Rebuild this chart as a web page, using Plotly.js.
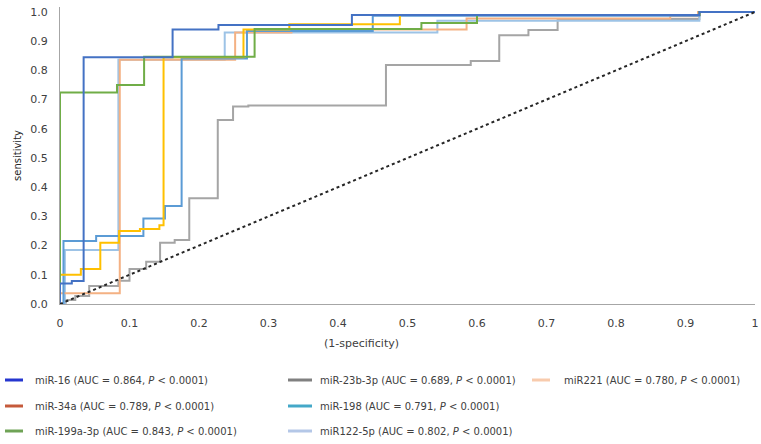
<!DOCTYPE html>
<html>
<head>
<meta charset="utf-8">
<script src="https://cdn.plot.ly/plotly-3.0.1.min.js"></script>
<style>html,body{margin:0;padding:0;background:#fff;}#chart{width:761px;height:444px;}</style>
</head>
<body>
<div id="chart"></div>
<script>
// ---- data ----
const seriesNames = ['miR-16', 'miR-34a', 'miR-199a-3p', 'miR-23b-3p', 'miR-198', 'miR122-5p', 'miR221'];
const aucValues = ['0.864', '0.789', '0.843', '0.689', '0.791', '0.802', '0.780'];
const pText = '0.0001';

const fpr16 = [0, 0, 0.017, 0.017, 0.034, 0.034, 0.162, 0.162, 0.228, 0.228, 0.42, 0.42, 0.92, 0.92, 1];
const tpr16 = [0, 0.07, 0.07, 0.079, 0.079, 0.845, 0.845, 0.94, 0.94, 0.955, 0.955, 0.99, 0.99, 1, 1];

const fpr34a = [0, 0, 0.03, 0.03, 0.058, 0.058, 0.085, 0.085, 0.115, 0.115, 0.143, 0.143, 0.149, 0.149, 0.264, 0.264, 0.33, 0.33, 0.489, 0.489, 0.92, 0.92, 1];
const tpr34a = [0, 0.1, 0.1, 0.12, 0.12, 0.21, 0.21, 0.25, 0.25, 0.257, 0.257, 0.27, 0.27, 0.845, 0.845, 0.94, 0.94, 0.958, 0.958, 0.99, 0.99, 1, 1];

const fpr199a = [0, 0, 0.082, 0.082, 0.121, 0.121, 0.28, 0.28, 0.52, 0.52, 0.6, 0.6, 0.92, 0.92, 1];
const tpr199a = [0, 0.724, 0.724, 0.75, 0.75, 0.847, 0.847, 0.942, 0.942, 0.962, 0.962, 0.99, 0.99, 1, 1];

const fpr23b = [0, 0.008, 0.008, 0.022, 0.022, 0.042, 0.042, 0.084, 0.084, 0.1, 0.1, 0.124, 0.124, 0.144, 0.144, 0.165, 0.165, 0.186, 0.186, 0.227, 0.227, 0.249, 0.249, 0.271, 0.271, 0.469, 0.469, 0.591, 0.591, 0.632, 0.632, 0.674, 0.674, 0.716, 0.716, 0.92, 0.92, 1];
const tpr23b = [0, 0, 0.014, 0.014, 0.027, 0.027, 0.062, 0.062, 0.08, 0.08, 0.12, 0.12, 0.145, 0.145, 0.21, 0.21, 0.219, 0.219, 0.362, 0.362, 0.63, 0.63, 0.676, 0.676, 0.68, 0.68, 0.818, 0.818, 0.832, 0.832, 0.92, 0.92, 0.938, 0.938, 0.976, 0.976, 1, 1];

const fpr198 = [0, 0.005, 0.005, 0.052, 0.052, 0.12, 0.12, 0.151, 0.151, 0.175, 0.175, 0.269, 0.269, 0.45, 0.45, 0.92, 0.92, 1];
const tpr198 = [0, 0, 0.216, 0.216, 0.233, 0.233, 0.293, 0.293, 0.336, 0.336, 0.841, 0.841, 0.935, 0.935, 0.987, 0.987, 1, 1];

const fpr122 = [0, 0.007, 0.007, 0.084, 0.084, 0.237, 0.237, 0.543, 0.543, 0.92, 0.92, 1];
const tpr122 = [0, 0, 0.185, 0.185, 0.836, 0.836, 0.93, 0.93, 0.97, 0.97, 1, 1];

const fpr221 = [0, 0, 0.086, 0.086, 0.252, 0.252, 0.333, 0.333, 0.585, 0.585, 0.878, 0.878, 0.918, 0.918, 1];
const tpr221 = [0, 0.037, 0.037, 0.836, 0.836, 0.93, 0.93, 0.94, 0.94, 0.978, 0.978, 0.985, 0.985, 1, 1];

const refX = [0, 1];
const refY = [0, 1];

const xTickVals = [0, 0.1, 0.2, 0.3, 0.4, 0.5, 0.6, 0.7, 0.8, 0.9, 1];
const xTickText = ['0', '0.1', '0.2', '0.3', '0.4', '0.5', '0.6', '0.7', '0.8', '0.9', '1'];
const yTickVals = [0, 0.1, 0.2, 0.3, 0.4, 0.5, 0.6, 0.7, 0.8, 0.9, 1];
const yTickText = ['0.0', '0.1', '0.2', '0.3', '0.4', '0.5', '0.6', '0.7', '0.8', '0.9', '1.0'];

// ---- styles ----
const curveColors = ['#4472C4', '#FFC000', '#70AD47', '#A5A5A5', '#5B9BD5', '#9DC3E6', '#F4B183'];
const legendColors = ['#2536CF', '#C55A3B', '#6FA356', '#808080', '#44A8C8', '#B4C7E7', '#F8CBAD'];

const curves = [
  [fpr16, tpr16], [fpr34a, tpr34a], [fpr199a, tpr199a], [fpr23b, tpr23b],
  [fpr198, tpr198], [fpr122, tpr122], [fpr221, tpr221]
];
const drawOrder = [3, 5, 6, 4, 1, 2, 0];

const traces = drawOrder.map(i => ({
  x: curves[i][0], y: curves[i][1], type: 'scatter', mode: 'lines',
  name: seriesNames[i], showlegend: false,
  line: {color: curveColors[i], width: 2}, hoverinfo: 'skip'
}));
traces.push({
  x: refX, y: refY, type: 'scatter', mode: 'lines', showlegend: false,
  line: {color: '#262626', width: 2, dash: 'dot'}, hoverinfo: 'skip'
});

// plot-area geometry (pixels) for placing the legend
const L = 60, T = 7, W = 695, H = 297;
const px2x = p => (p - L) / W;
const py2y = p => 1 - (p - T) / H;

const colLine = [[5, 23], [288, 312], [532, 550]];
const colText = [33, 318, 562];
const rowY = [380, 406, 431];
const legendSlots = [[0,0],[0,1],[0,2],[1,0],[1,1],[1,2],[2,0]];

const annotations = [];
const shapes = [];
seriesNames.forEach((nm, i) => {
  const [c, r] = legendSlots[i];
  shapes.push({type: 'line', xref: 'paper', yref: 'paper',
    x0: px2x(colLine[c][0]), x1: px2x(colLine[c][1]),
    y0: py2y(rowY[r]), y1: py2y(rowY[r]),
    line: {color: legendColors[i], width: 3}});
  annotations.push({xref: 'paper', yref: 'paper', x: px2x(colText[c]), y: py2y(rowY[r]),
    xanchor: 'left', yanchor: 'middle', showarrow: false,
    text: nm + ' (AUC = ' + aucValues[i] + ', <i>P</i> &lt; ' + pText + ')',
    font: {family: 'DejaVu Sans', size: 10, color: '#404040'}});
});
annotations.push({xref: 'paper', yref: 'paper', x: px2x(361), y: py2y(343),
  xanchor: 'center', yanchor: 'middle', showarrow: false, text: '(1-specificity)',
  font: {family: 'DejaVu Sans', size: 11, color: '#404040'}});

const layout = {
  width: 761, height: 444,
  margin: {l: L, r: 761 - L - W, t: T, b: 444 - T - H, pad: 0},
  paper_bgcolor: '#fff', plot_bgcolor: '#fff',
  showlegend: false,
  font: {family: 'DejaVu Sans', size: 11, color: '#404040'},
  xaxis: {range: [0, 1], tickvals: xTickVals, ticktext: xTickText, showgrid: false, zeroline: false,
    showline: true, linecolor: '#A6A6A6', linewidth: 1, ticks: '', ticklabelstandoff: 9,
    tickfont: {family: 'DejaVu Sans', size: 11, color: '#404040'}, fixedrange: true},
  yaxis: {range: [0, 1.017], tickvals: yTickVals, ticktext: yTickText, showgrid: false, zeroline: false,
    showline: true, linecolor: '#A6A6A6', linewidth: 1, ticks: '', ticklabelstandoff: 9,
    tickfont: {family: 'DejaVu Sans', size: 11, color: '#404040'},
    title: {text: 'sensitivity', standoff: 6, font: {family: 'DejaVu Sans', size: 10, color: '#262626'}},
    fixedrange: true},
  annotations: annotations,
  shapes: shapes
};

Plotly.newPlot('chart', traces, layout, {displayModeBar: false, staticPlot: true});
</script>
</body>
</html>
